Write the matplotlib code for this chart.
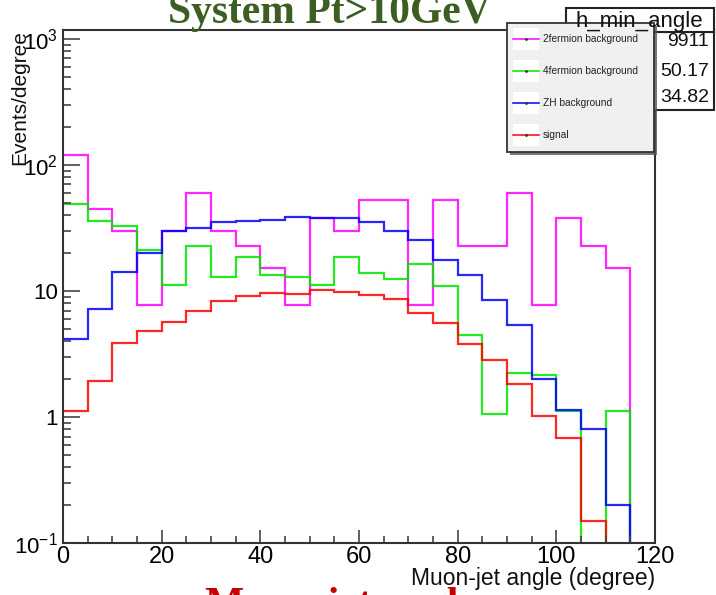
import numpy as np
import matplotlib
matplotlib.use("Agg")
import matplotlib.pyplot as plt
from matplotlib.patches import Rectangle
from matplotlib.ticker import FixedLocator, FixedFormatter, NullFormatter

plt.rcParams['font.family'] = ['Liberation Sans', 'DejaVu Sans']
plt.rcParams['mathtext.default'] = 'regular'

# ---- data (Events/degree per 5-degree bin) ----
bin_edges = list(range(0, 125, 5))
two_fermion = [120, 45, 30, 7.8, 30, 60, 30, 22.6, 15.3, 7.8, 38, 30,
               53, 53, 7.8, 53, 22.6, 22.6, 60, 7.8, 38, 22.6, 15.3, 0]
four_fermion = [49, 36, 32.6, 21.3, 11.1, 22.9, 13, 18.6, 13.4, 12.9, 11.1, 18.5,
                14, 12.4, 16.5, 10.9, 4.5, 1.06, 2.24, 2.14, 1.12, 0, 1.12, 0]
zh_bkg = [4.16, 7.2, 14.2, 20, 30, 31.7, 35.3, 35.7, 36.4, 38.7, 38, 38,
          35.3, 30, 25.6, 17.6, 13.5, 8.55, 5.4, 2.0, 1.14, 0.81, 0.2, 0]
signal = [1.12, 1.94, 3.86, 4.8, 5.66, 6.95, 8.4, 9.1, 9.7, 9.5, 10.2, 9.8,
          9.25, 8.6, 6.7, 5.56, 3.8, 2.84, 1.84, 1.02, 0.68, 0.149, 0, 0]

series_names = ["2fermion background", "4fermion background", "ZH background", "signal"]
series_vals = [two_fermion, four_fermion, zh_bkg, signal]
series_cols = ["#ff00ff", "#00e600", "#0000ff", "#ff0000"]

ytick_vals = [0.1, 1, 10, 100, 1000]
ytick_labels = ["10$^{-1}$", "1", "10", "10$^{2}$", "10$^{3}$"]
xtick_vals = [0, 20, 40, 60, 80, 100, 120]

stats_title = "h_min_angle"
stats_values = ["9911", "50.17", "34.82"]

W, H = 716, 595
fig = plt.figure(figsize=(W / 100, H / 100), dpi=100)
L, R, T, B = 63, 655, 30, 543
ax = fig.add_axes([L / W, 1 - B / H, (R - L) / W, (B - T) / H])

edges = np.array(bin_edges, dtype=float)
for vals, col in zip(series_vals, series_cols):
    v = np.array(vals, dtype=float)
    v = np.where(v > 0, v, 1e-4)
    ax.stairs(v, edges, baseline=None, color=col, lw=1.6, alpha=0.85)

ax.set_yscale('log')
ax.set_xlim(0, 120)
ax.set_ylim(0.1, 10 ** (3 + 9 / 126.5))

ax.yaxis.set_major_locator(FixedLocator(ytick_vals))
ax.yaxis.set_major_formatter(FixedFormatter(ytick_labels))
minors = [m * 10.0 ** e for e in range(-1, 3) for m in range(2, 10)] + [2000]
ax.yaxis.set_minor_locator(FixedLocator(minors))
ax.yaxis.set_minor_formatter(NullFormatter())
ax.xaxis.set_major_locator(FixedLocator(xtick_vals))
ax.xaxis.set_minor_locator(FixedLocator(list(range(0, 121, 5))))

ax.tick_params(axis='y', which='major', direction='in', length=12, width=1.2,
               color='#444444', labelsize=16, pad=3.5, right=False)
ax.tick_params(axis='y', which='minor', direction='in', length=6, width=1.2,
               color='#444444', right=False)
ax.tick_params(axis='x', which='major', direction='in', length=9.5, width=1.2,
               color='#444444', labelsize=17, pad=2, top=False)
ax.tick_params(axis='x', which='minor', direction='in', length=5, width=1.2,
               color='#444444', top=False)
for s in ax.spines.values():
    s.set_color('#333333')
    s.set_linewidth(1.5)

# overlay in pixel coordinates for annotations
ov = fig.add_axes([0, 0, 1, 1], zorder=10)
ov.set_xlim(0, W)
ov.set_ylim(H, 0)
ov.axis('off')
ov.patch.set_alpha(0)

# axis titles
ov.text(655, 578, "Muon-jet angle (degree)", ha='right', va='center', fontsize=16.5, color='#111111')
ov.text(20, 30, "Events/degree", ha='center', va='top', rotation=90, fontsize=15, color='#111111')

# chart title (partly cut) and bottom slide text
ov.text(329, 23, "System Pt>10GeV", ha='center', va='baseline', fontsize=30,
        family='Liberation Serif', weight='bold', color='#3d5e22')
ov.text(205, 616, "Muon-jet angle", ha='left', va='baseline', fontsize=30,
        family='Liberation Serif', weight='bold', color='#c40000')

# stats box
ov.add_patch(Rectangle((566, 32), 148, 78, facecolor='white', edgecolor='#222222', lw=1.5))
ov.add_patch(Rectangle((566, 7.5), 148, 24.5, facecolor='white', edgecolor='#222222', lw=1.5))
ov.text(639, 27.5, stats_title, ha='center', va='baseline', fontsize=16, color='#111111')
for yv, txt in zip([42, 71, 97], stats_values):
    ov.text(709, yv, txt, ha='right', va='center', fontsize=14, color='#111111')

# legend box
ov.add_patch(Rectangle((509.5, 25.5), 147.3, 129, facecolor='#555555', edgecolor='none', alpha=0.8))
ov.add_patch(Rectangle((506.7, 22.7), 147.3, 129, facecolor='#f0f0f0', edgecolor='#333333', lw=1.3))
for yc, name, col in zip([39, 71, 102.5, 135], series_names, series_cols):
    ov.add_patch(Rectangle((512.5, yc - 11), 26, 22, facecolor='white', edgecolor='none'))
    ov.plot([512.5, 538.5], [yc, yc], color=col, lw=1.1)
    ov.plot([525.5], [yc], marker='.', ms=2, color='#333333')
    ov.text(543, yc, name, ha='left', va='center', fontsize=7.3, color='#222222')

fig.savefig("out.png", dpi=100)
